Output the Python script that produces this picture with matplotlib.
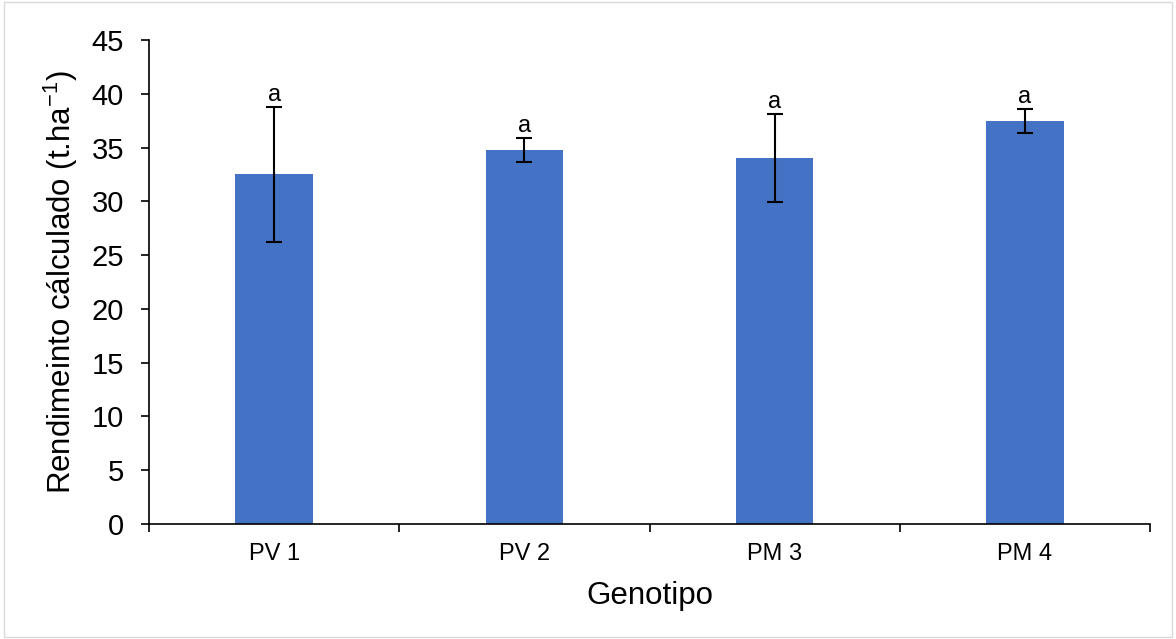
import matplotlib
matplotlib.use("Agg")
import matplotlib.pyplot as plt
import numpy as np

plt.rcParams['font.family'] = ['Liberation Sans', 'DejaVu Sans']
plt.rcParams['mathtext.fontset'] = 'custom'
plt.rcParams['mathtext.rm'] = 'Liberation Sans'

categories = ["PV 1", "PV 2", "PM 3", "PM 4"]
values = [32.5, 34.75, 34.0, 37.45]
errors = [6.3, 1.1, 4.1, 1.1]
letters = ["a", "a", "a", "a"]
yticks = [0, 5, 10, 15, 20, 25, 30, 35, 40, 45]

fig = plt.figure(figsize=(11.76, 6.39), dpi=100)
ax = fig.add_axes([149/1176, 1-524/639, 1001/1176, 484/639])

x = np.arange(len(categories))
ax.bar(x, values, width=0.31, color='#4472C4', zorder=2)
ax.errorbar(x, values, yerr=errors, fmt='none', ecolor='black', elinewidth=1.5,
            capsize=5.5, capthick=1.5, zorder=3)
for xi, v, e, l in zip(x, values, errors, letters):
    ax.text(xi, v + e + 0.1, l, ha='center', va='bottom', fontsize=17)

ax.set_xlim(-0.5, len(categories) - 0.5)
ax.set_ylim(0, 45)
ax.set_yticks(yticks)
ax.tick_params(axis='y', labelsize=21, direction='out', length=6, width=1.2, pad=12)
ax.set_xticks(x)
ax.set_xticklabels(categories, fontsize=17)
ax.tick_params(axis='x', which='major', length=0, pad=14)
ax.set_xticks(np.arange(len(categories) + 1) - 0.5, minor=True)
ax.tick_params(axis='x', which='minor', length=6, width=1.2, direction='out')

for s in ['top', 'right']:
    ax.spines[s].set_visible(False)
ax.spines['left'].set_linewidth(1.2)
ax.spines['bottom'].set_linewidth(1.2)

ax.set_ylabel("Rendimeinto cálculado (t.ha$^{\\mathregular{-1}}$)", fontsize=22.5, labelpad=8)
ax.set_xlabel("Genotipo", fontsize=22.5, labelpad=11)

border = plt.Rectangle((0.003, 0.003), 0.994, 0.994, transform=fig.transFigure,
                       fill=False, edgecolor='#D9D9D9', linewidth=1)
fig.patches.append(border)

fig.savefig("out.png", dpi=100)
